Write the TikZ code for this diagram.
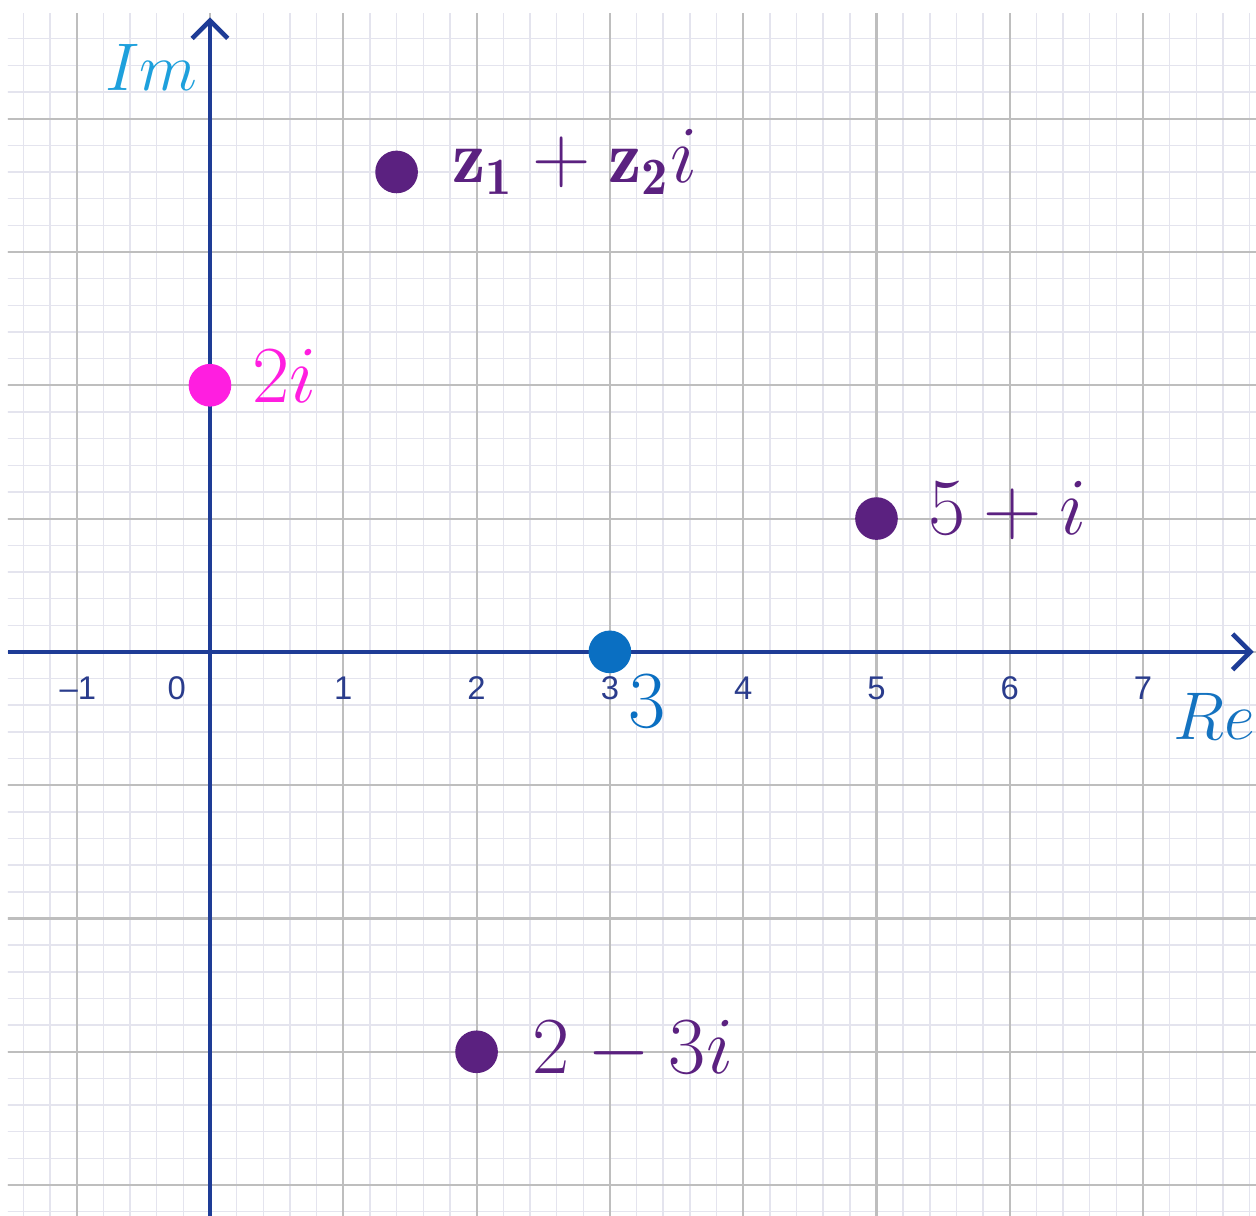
\documentclass[tikz,border=0pt]{standalone}
\usepackage{fontspec}
\newfontfamily\ticksf{Liberation Sans}
\usetikzlibrary{arrows.meta}
\definecolor{axisblue}{HTML}{1E3C96}
\definecolor{ticktext}{HTML}{2A3C8C}
\definecolor{ptpurple}{HTML}{5B2180}
\definecolor{ptmagenta}{HTML}{FF1EE0}
\definecolor{ptblue}{HTML}{0A6FC2}
\definecolor{imblue}{HTML}{1EA0DC}
\definecolor{reblue}{HTML}{1573C0}
\definecolor{minorgrid}{HTML}{E4E4EE}
\definecolor{majorgrid}{HTML}{BEBEBE}
\tikzset{
  minorline/.style={draw=minorgrid,line width=0.3pt},
  majorline/.style={draw=majorgrid,line width=0.45pt},
  axisline/.style={draw=axisblue,line width=1pt,-{Straight Barb[length=3.8pt,width=7.6pt]}},
  dot/.style={circle,fill=#1,minimum size=0.32cm,inner sep=0pt},
  ptlabel/.style={anchor=base west,inner sep=0pt,text=#1,font=\fontsize{16}{18}\selectfont},
  axlabel/.style={anchor=base west,inner sep=0pt,text=#1,font=\fontsize{13.5}{15}\selectfont},
  ticklabel/.style={anchor=base,inner sep=0pt,text=ticktext,font=\fontsize{7}{8}\ticksf},
}
\begin{document}
\begin{tikzpicture}[x=1cm,y=1cm]
\useasboundingbox (-1.575,-4.23) rectangle (7.847,4.89);
\fill[white] (-1.575,-4.23) rectangle (7.847,4.89);
% grid
\begin{scope}
\clip (-1.515,-4.23) rectangle (7.847,4.79);
\draw[minorline,step=0.2] (-1.6,-4.4) grid (8,4.8);
\draw[majorline,step=1] (-1.6,-4.4) grid (8,4.8);
\end{scope}
% axes
\coordinate (xstart) at (-1.515,0);
\coordinate (xend) at (7.83,0);
\coordinate (ystart) at (0,-4.23);
\coordinate (yend) at (0,4.76);
\draw[axisline] (xstart) -- (xend);
\draw[axisline] (ystart) -- (yend);
% tick labels
\node[ticklabel] (tm1) at (-0.99,-0.36) {\textendash1};
\node[ticklabel] (t0) at (-0.25,-0.36) {0};
\node[ticklabel] (t1) at (1,-0.36) {1};
\node[ticklabel] (t2) at (2,-0.36) {2};
\node[ticklabel] (t3) at (3,-0.36) {3};
\node[ticklabel] (t4) at (4,-0.36) {4};
\node[ticklabel] (t5) at (5,-0.36) {5};
\node[ticklabel] (t6) at (6,-0.36) {6};
\node[ticklabel] (t7) at (7,-0.36) {7};
% axis names
\node[axlabel=imblue] (im) at (-0.79,4.21) {$Im$};
\node[axlabel=reblue] (re) at (7.22,-0.66) {$Re$};
% points
\node[dot=ptpurple] (pz) at (1.40,3.60) {};
\node[dot=ptmagenta] (p2i) at (0,2) {};
\node[dot=ptpurple] (p5i) at (5,1) {};
\node[dot=ptblue] (p3) at (3,0) {};
\node[dot=ptpurple] (p23) at (2,-3) {};
% point labels
\node[ptlabel=ptpurple] (lz) at (1.81,3.52) {$\mathbf{z_1}+\mathbf{z_2}i$};
\node[ptlabel=ptmagenta] (l2i) at (0.31,1.87) {$2i$};
\node[ptlabel=ptpurple] (l5i) at (5.38,0.88) {$5+i$};
\node[ptlabel=ptblue] (l3) at (3.135,-0.57) {$3$};
\node[ptlabel=ptpurple] (l23) at (2.415,-3.16) {$2-3i$};
\end{tikzpicture}
\end{document}
